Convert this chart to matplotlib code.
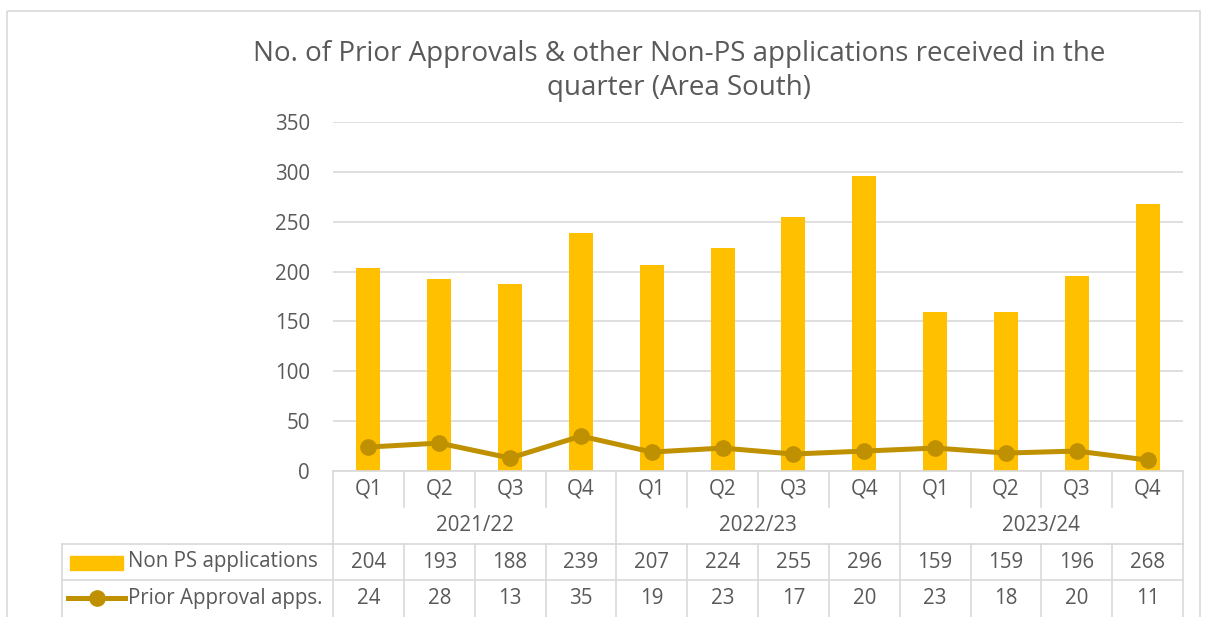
import matplotlib.pyplot as plt
from matplotlib.lines import Line2D
from matplotlib.patches import Rectangle

plt.rcParams['font.family'] = ['Open Sans', 'DejaVu Sans']

quarters = ['Q1', 'Q2', 'Q3', 'Q4'] * 3
years = ['2021/22', '2022/23', '2023/24']
non_ps = [204, 193, 188, 239, 207, 224, 255, 296, 159, 159, 196, 268]
prior_approval = [24, 28, 13, 35, 19, 23, 17, 20, 23, 18, 20, 11]
series_names = ['Non PS applications', 'Prior Approval apps.']
title = 'No. of Prior Approvals & other Non-PS applications received in the\nquarter (Area South)'

bar_color = '#FFC000'
line_color = '#BF9000'
grid_color = '#D9D9D9'
text_color = '#595959'
fs = 14.8

W, H = 1205, 617
fig = plt.figure(figsize=(W / 100, H / 100), dpi=100)

# plot area in pixels
left, right, top, bottom = 333, 1183, 122, 471
ax = fig.add_axes([left / W, (H - bottom) / H, (right - left) / W, (bottom - top) / H])
x = list(range(len(non_ps)))
ax.bar(x, non_ps, width=0.34, color=bar_color, zorder=2)
ax.plot(x, prior_approval, color=line_color, lw=3.6, marker='o', markersize=11, zorder=3)
ax.set_xlim(-0.5, len(x) - 0.5)
ax.set_ylim(0, 350)
ax.set_yticks(range(0, 351, 50))
ax.set_xticks([])
ax.yaxis.grid(True, color=grid_color, lw=1.2)
ax.set_axisbelow(True)
for s in ['top', 'right', 'left']:
    ax.spines[s].set_visible(False)
ax.spines['bottom'].set_color(grid_color)
ax.spines['bottom'].set_linewidth(1.2)
ax.tick_params(axis='y', length=0, pad=16.5, labelsize=fs, labelcolor=text_color)
ax.patch.set_alpha(0)

# overlay in pixel coordinates for table, title and frame
ov = fig.add_axes([0, 0, 1, 1], zorder=-1)
ov.set_xlim(0, W)
ov.set_ylim(H, 0)
ov.axis('off')

ov.add_patch(Rectangle((7, 11), 1193, 640, fill=False, ec=grid_color, lw=1.2))
ov.text(679, 71, title, ha='center', va='center', fontsize=20, color=text_color,
        linespacing=1.3)

col_w = (right - left) / len(x)
lc = dict(color=grid_color, lw=1.2)
row_q, row_y, row1, row2, row_end = 471, 507, 544, 580, 617

# category rows
for i, q in enumerate(quarters):
    cx = left + (i + 0.5) * col_w
    ov.text(cx, (row_q + row_y) / 2, q, ha='center', va='center', fontsize=fs, color=text_color)
    xb = left + i * col_w
    if i % 4 == 0:
        ov.add_line(Line2D([xb, xb], [row_q, row_end], **lc))
    else:
        ov.add_line(Line2D([xb, xb], [row_q, row_y], **lc))
        ov.add_line(Line2D([xb, xb], [row1, row_end], **lc))
ov.add_line(Line2D([right, right], [row_q, row_end], **lc))
for j, yr in enumerate(years):
    cx = left + (j * 4 + 2) * col_w
    ov.text(cx, (row_y + row1) / 2, yr, ha='center', va='center', fontsize=fs, color=text_color)

# data table
ov.add_line(Line2D([62, right], [row1, row1], **lc))
ov.add_line(Line2D([62, right], [row2, row2], **lc))
ov.add_line(Line2D([62, 62], [row1, row_end], **lc))
for i in range(len(x)):
    cx = left + (i + 0.5) * col_w
    ov.text(cx, (row1 + row2) / 2, str(non_ps[i]), ha='center', va='center', fontsize=fs, color=text_color)
    ov.text(cx, (row2 + row_end) / 2, str(prior_approval[i]), ha='center', va='center', fontsize=fs, color=text_color)

# legend keys
ov.add_patch(Rectangle((70, 556), 53, 14, color=bar_color))
ov.add_line(Line2D([68, 125], [598, 598], color=line_color, lw=3.6))
ov.plot([97], [598], marker='o', markersize=11, color=line_color)
ov.text(128, (row1 + row2) / 2, series_names[0], ha='left', va='center', fontsize=fs, color=text_color)
ov.text(128, (row2 + row_end) / 2, series_names[1], ha='left', va='center', fontsize=fs, color=text_color)

fig.savefig('out.png', dpi=100, facecolor='white')
